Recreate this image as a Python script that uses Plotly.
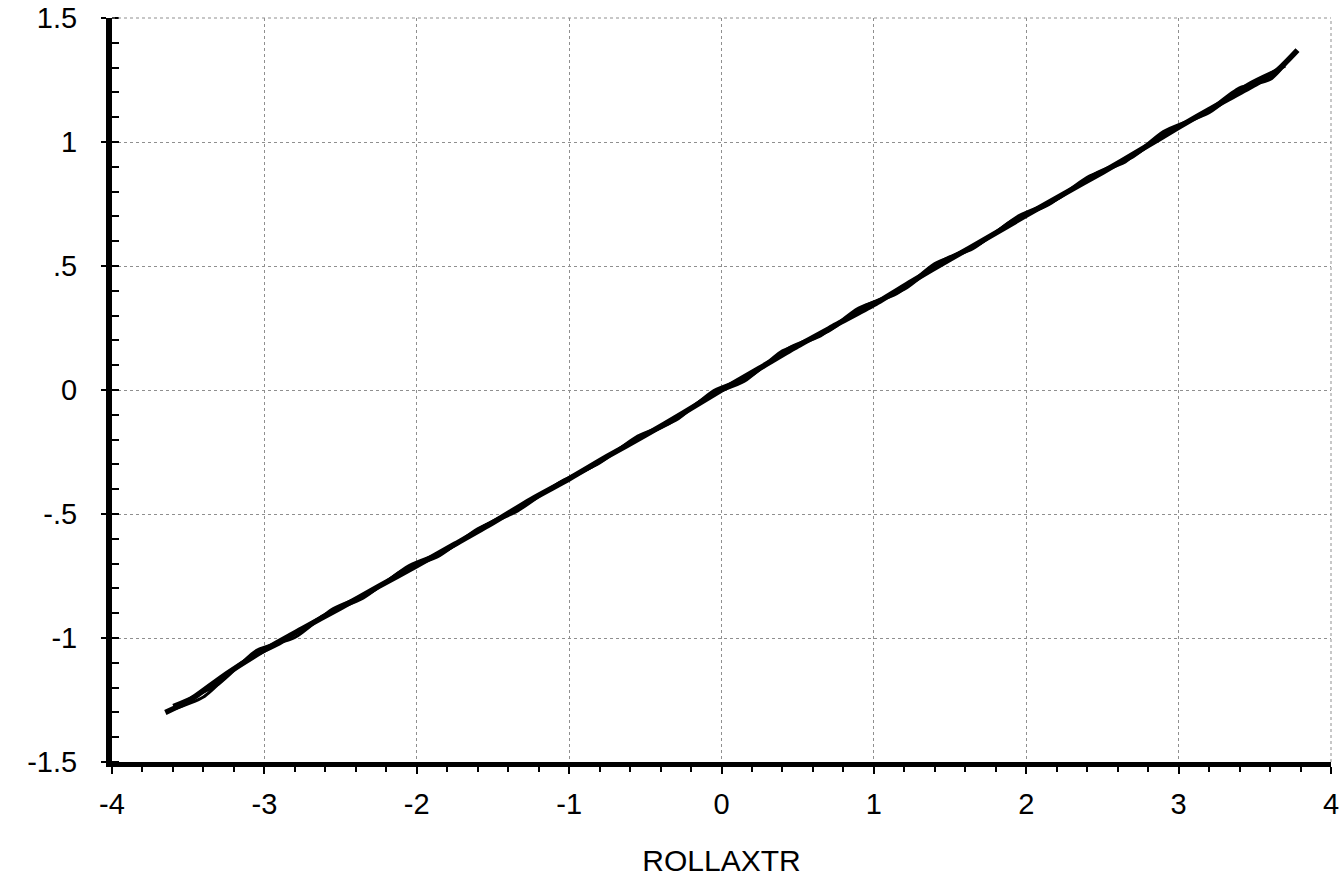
import plotly.graph_objects as go

# ---- data ----
x_pass1 = [-3.65, -3.5, -3.25, -3.0, -2.75, -2.5, -2.25, -2.0, -1.75, -1.5, -1.25, -1.0,
           -0.75, -0.5, -0.25, 0.0, 0.25, 0.5, 0.75, 1.0, 1.25, 1.5, 1.75, 2.0, 2.25,
           2.5, 2.75, 3.0, 3.25, 3.5, 3.65, 3.78]
y_pass1 = [-1.30, -1.255, -1.145, -1.048, -0.962, -0.878, -0.792, -0.708, -0.622, -0.535,
           -0.442, -0.358, -0.268, -0.182, -0.092, 0.0, 0.088, 0.178, 0.262, 0.345, 0.438,
           0.528, 0.615, 0.705, 0.792, 0.878, 0.968, 1.060, 1.148, 1.232, 1.29, 1.37]

x_pass2 = [-3.62, -3.4, -3.15, -2.9, -2.6, -2.35, -2.1, -1.85, -1.6, -1.35, -1.1, -0.85,
           -0.6, -0.35, -0.1, 0.15, 0.4, 0.65, 0.9, 1.15, 1.4, 1.65, 1.9, 2.15, 2.4,
           2.65, 2.9, 3.15, 3.4, 3.6, 3.75]
y_pass2 = [-1.292, -1.238, -1.100, -1.024, -0.905, -0.838, -0.730, -0.668, -0.560, -0.492,
           -0.388, -0.310, -0.210, -0.138, -0.028, 0.035, 0.158, 0.218, 0.330, 0.388, 0.510,
           0.570, 0.680, 0.748, 0.858, 0.920, 1.042, 1.108, 1.218, 1.252, 1.352]

x_pass3 = [-3.6, -3.3, -3.05, -2.8, -2.55, -2.3, -2.05, -1.8, -1.55, -1.3, -1.05, -0.8,
           -0.55, -0.3, -0.05, 0.2, 0.45, 0.7, 0.95, 1.2, 1.45, 1.7, 1.95, 2.2, 2.45,
           2.7, 2.95, 3.2, 3.45, 3.7]
y_pass3 = [-1.272, -1.185, -1.050, -0.998, -0.882, -0.815, -0.708, -0.645, -0.545, -0.466,
           -0.368, -0.294, -0.186, -0.122, -0.002, 0.060, 0.172, 0.236, 0.342, 0.406, 0.522,
           0.592, 0.702, 0.768, 0.872, 0.940, 1.052, 1.118, 1.232, 1.306]

x_ticks = [-4, -3, -2, -1, 0, 1, 2, 3, 4]
x_ticklabels = ["-4", "-3", "-2", "-1", "0", "1", "2", "3", "4"]
y_ticks = [-1.5, -1, -0.5, 0, 0.5, 1, 1.5]
y_ticklabels = ["-1.5", "-1", "-.5", "0", ".5", "1", "1.5"]
x_title = "ROLLAXTR"

FONT = "Liberation Sans, Arial, Helvetica, sans-serif"
GRID = "#8f8f8f"

fig = go.Figure()
for xs, ys, w in [(x_pass1, y_pass1, 5.5), (x_pass2, y_pass2, 3), (x_pass3, y_pass3, 3)]:
    fig.add_trace(go.Scatter(x=xs, y=ys, mode="lines",
                             line=dict(color="black", width=w, shape="spline", smoothing=0.7),
                             showlegend=False, hoverinfo="skip"))

fig.update_layout(
    width=1341, height=877,
    margin=dict(l=112, r=10, t=18, b=115),
    paper_bgcolor="white", plot_bgcolor="white",
    font=dict(family=FONT, color="black", size=29),
    xaxis=dict(
        range=[-4, 4], tickmode="array", tickvals=x_ticks, ticktext=x_ticklabels,
        automargin=False,
        showline=True, linecolor="black", linewidth=5,
        ticks="outside", ticklen=7, tickwidth=2, tickcolor="black",
        showgrid=True, gridcolor=GRID, gridwidth=1, griddash="dot",
        zeroline=False, ticklabeloverflow="allow",
        minor=dict(dtick=0.2, ticks="outside", ticklen=5, tickwidth=2, tickcolor="black",
                   showgrid=False),
        tickfont=dict(size=29),
        title=dict(text=x_title, font=dict(size=30), standoff=34),
        ticklabelstandoff=5,
    ),
    yaxis=dict(
        range=[-1.5, 1.5], tickmode="array", tickvals=y_ticks, ticktext=y_ticklabels,
        automargin=False,
        showline=True, linecolor="black", linewidth=6,
        ticks="outside", ticklen=5, tickwidth=2, tickcolor="black",
        showgrid=True, gridcolor=GRID, gridwidth=1, griddash="dot",
        zeroline=False, ticklabeloverflow="allow",
        minor=dict(dtick=0.1, ticks="inside", ticklen=7, tickwidth=2, tickcolor="black",
                   showgrid=False),
        tickfont=dict(size=29),
        ticklabelstandoff=18,
    ),
    shapes=[
        dict(type="line", xref="paper", yref="paper", x0=0, x1=1, y0=1, y1=1,
             line=dict(color=GRID, width=1, dash="dot")),
        dict(type="line", xref="paper", yref="paper", x0=1, x1=1, y0=0, y1=1,
             line=dict(color=GRID, width=1, dash="dot")),
    ],
)

fig.write_html(
    "out.html",
    config={"displayModeBar": False},
    post_script="document.body.style.margin='0px';document.body.style.overflow='hidden';"
                "document.documentElement.style.overflow='hidden';",
)
